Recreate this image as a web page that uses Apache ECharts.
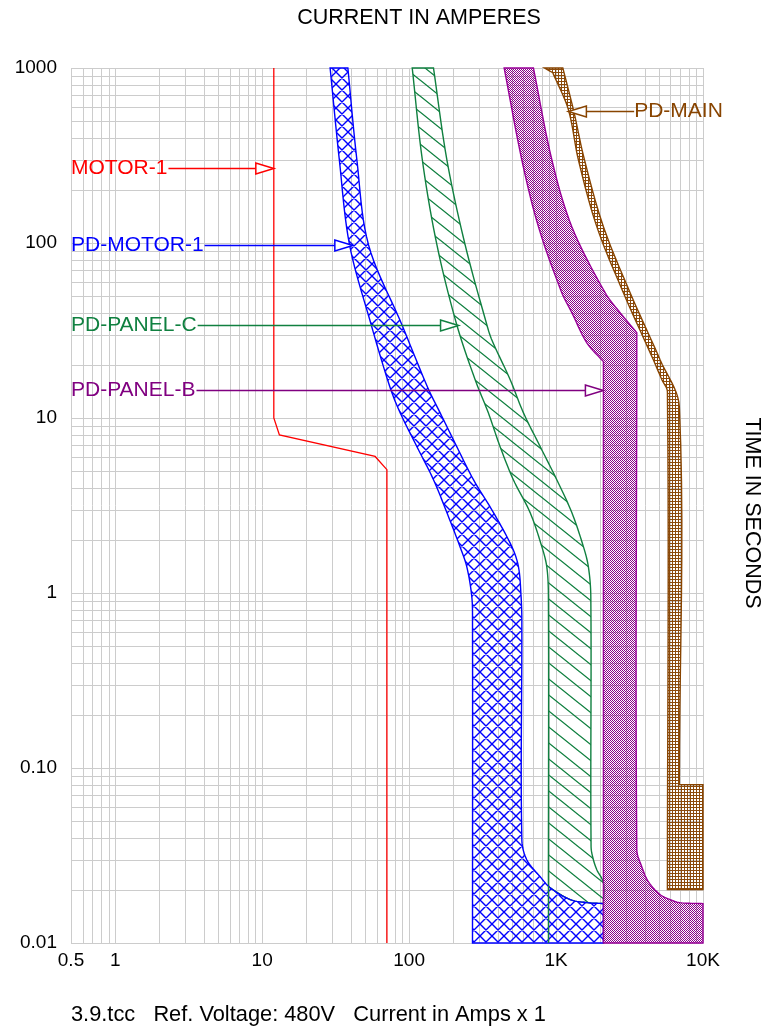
<!DOCTYPE html>
<html>
<head>
<meta charset="utf-8">
<script src="https://cdn.jsdelivr.net/npm/echarts@6/dist/echarts.min.js"></script>
<style>
  html, body { margin: 0; padding: 0; background: #fff; }
  #chart { width: 764px; height: 1030px; }
</style>
</head>
<body>
<div id="chart"></div>
<script>
// ---- axis labels ----
const ampTicks = [0.5, 1, 10, 100, 1000, 10000];
const ampTickText = ['0.5', '1', '10', '100', '1K', '10K'];
const secTicks = [0.01, 0.1, 1, 10, 100, 1000];
const secTickText = ['0.01', '0.10', '1', '10', '100', '1000'];

// ---- curves: [amps, seconds] ----
const motor1 = [[12, 1000], [12, 10], [13.1, 8], [58.7, 6.03], [70.6, 5.07], [70.6, 0.01]];

const pdMotor1 = [
  [29, 1000], [33.5, 299], [39.3, 97.8], [55.2, 34.1], [74.3, 14.9], [87, 10.7],
  [113, 6.86], [146.5, 4.44], [180.7, 2.88], [222, 1.84], [247, 1.41], [267, 0.953],
  [270, 0.7], [270, 0.01],
  [2100, 0.01], [2100, 0.0168], [1626, 0.017], [1247, 0.0177], [911, 0.0207],
  [780, 0.0239], [632, 0.0299], [585, 0.0389], [585, 0.7], [578, 0.953], [555, 1.41],
  [500, 1.84], [375, 2.88], [274, 4.44], [211, 6.86], [162.6, 10.7], [134, 14.9],
  [89.3, 34.1], [52.9, 97.8], [44.1, 299], [38.3, 1000]
];

const pdPanelC = [
  [105, 1000], [123, 299], [154.5, 97.8], [211, 34.1], [281, 16.6], [346, 10.7],
  [416, 6.86], [512, 4.44], [666, 2.88], [800, 1.84], [865, 1.41], [887, 0.953],
  [887, 0.0212], [911, 0.0207], [1247, 0.0177], [1626, 0.017], [2100, 0.0168],
  [2100, 0.0221], [1894, 0.0262], [1795, 0.0299], [1731, 0.0355], [1724, 0.953],
  [1660, 1.41], [1535, 1.84], [1280, 2.88], [1011, 4.44], [780, 6.86], [600, 10.7],
  [486.6, 16.6], [365, 28], [338, 34.1], [240.4, 97.8], [180.7, 299], [146.5, 1000]
];
const pdPanelCTail = [[887, 0.0212], [887, 0.01]];

const pdPanelB = [
  [443.5, 1000], [584.6, 299], [758.6, 124], [1094, 52], [1280, 40], [1619, 26.9],
  [2100, 21], [2100, 0.01],
  [10000, 0.01], [10000, 0.0168], [6980, 0.017], [5970, 0.0177], [5105, 0.0189],
  [4248, 0.0224], [3829, 0.0273], [3544, 0.0341], [3544, 30.7], [2727, 40],
  [2157, 52], [1280, 124], [936, 299], [701.5, 1000]
];

const pdMain = [
  [833, 1000], [950, 940], [1213, 578], [1419, 299], [1894, 124], [2872, 52],
  [4593, 21.5], [5240, 16.6], [5725, 14.1], [5725, 0.0202],
  [10000, 0.0202], [10000, 0.0803], [6900, 0.0803], [6900, 11.6], [5105, 21.5],
  [3191, 52], [2100, 124], [1560, 299], [1312, 578], [1112, 1000]
];

// ---- annotations ----
const labelNames = ['MOTOR-1', 'PD-MOTOR-1', 'PD-PANEL-C', 'PD-PANEL-B', 'PD-MAIN'];
const labelSec = [270, 97, 34, 14.5, 565];
const labelTipAmps = [12, 41.4, 217, 2100, 1213];
const labelTextAmps = [0.5, 0.5, 0.5, 0.5, 3400];
const labelColors = ['#ff0000', '#0000ff', '#108040', '#800080', '#884400'];

const FONT = '"Liberation Sans", Arial, Helvetica, sans-serif';

// grid values 1..9 per decade
function decadeValues(lo, hi) {
  const out = [];
  for (let e = -3; e <= 4; e++) {
    for (let m = 1; m <= 9; m++) {
      const v = m * Math.pow(10, e);
      if (v >= lo * 0.999 && v <= hi * 1.001) out.push(v);
    }
  }
  return out;
}
const gridAmps = decadeValues(0.5, 10000);
const gridSec = decadeValues(0.01, 1000);

// fill patterns
function makePattern(w, h, draw) {
  const c = document.createElement('canvas');
  c.width = w; c.height = h;
  draw(c.getContext('2d'), w, h);
  return { image: c, repeat: 'repeat' };
}
const blueHatch = makePattern(12, 12, (ctx, w, h) => {
  ctx.strokeStyle = '#0000ff'; ctx.lineWidth = 1.4;
  ctx.beginPath();
  for (let k = -1; k <= 1; k++) {
    ctx.moveTo(-2, -2 + k * h); ctx.lineTo(w + 2, h + 2 + k * h);
    ctx.moveTo(-2, h + 2 + k * h); ctx.lineTo(w + 2, -2 + k * h);
  }
  ctx.stroke();
});
const greenHatch = makePattern(20, 16, (ctx, w, h) => {
  ctx.strokeStyle = '#108040'; ctx.lineWidth = 1.3;
  ctx.beginPath();
  for (let k = -1; k <= 1; k++) {
    ctx.moveTo(-5, -4 + k * h); ctx.lineTo(w + 5, h + 4 + k * h);
  }
  ctx.stroke();
});
const purpleDots = makePattern(2, 2, (ctx) => {
  ctx.fillStyle = '#880088';
  ctx.fillRect(0, 0, 1, 1); ctx.fillRect(1, 1, 1, 1);
});
const brownGrid = makePattern(3, 3, (ctx) => {
  ctx.fillStyle = '#8b4a0b';
  ctx.fillRect(0, 0, 3, 1); ctx.fillRect(0, 0, 1, 3);
});

const measureCtx = document.createElement('canvas').getContext('2d');
function textWidth(t, font) { measureCtx.font = font; return measureCtx.measureText(t).width; }

// smooth a closed outline (pixel points), keeping sharp corners
function smoothOutline(px) {
  const n = px.length;
  const get = i => px[(i + n) % n];
  const dist = (a, b) => Math.hypot(b[0] - a[0], b[1] - a[1]);
  const corner = i => {
    const p0 = get(i - 1), p1 = get(i), p2 = get(i + 1);
    const a = Math.atan2(p1[1] - p0[1], p1[0] - p0[0]);
    const b = Math.atan2(p2[1] - p1[1], p2[0] - p1[0]);
    let d = Math.abs(b - a);
    if (d > Math.PI) d = 2 * Math.PI - d;
    return d > 35 * Math.PI / 180;
  };
  const out = [];
  for (let i = 0; i < n; i++) {
    const p0 = get(i - 1), p1 = get(i), p2 = get(i + 1), p3 = get(i + 2);
    const d01 = dist(p0, p1), d12 = dist(p1, p2), d23 = dist(p2, p3);
    let m1, m2;
    if (corner(i) || d01 + d12 === 0) m1 = [p2[0] - p1[0], p2[1] - p1[1]];
    else { const k = d12 / (d01 + d12); m1 = [(p2[0] - p0[0]) * k, (p2[1] - p0[1]) * k]; }
    if (corner(i + 1) || d12 + d23 === 0) m2 = [p2[0] - p1[0], p2[1] - p1[1]];
    else { const k = d12 / (d12 + d23); m2 = [(p3[0] - p1[0]) * k, (p3[1] - p1[1]) * k]; }
    const c1 = [p1[0] + m1[0] / 3, p1[1] + m1[1] / 3];
    const c2 = [p2[0] - m2[0] / 3, p2[1] - m2[1] / 3];
    const steps = 10;
    for (let s = 0; s < steps; s++) {
      const t = s / steps, u = 1 - t;
      out.push([
        u * u * u * p1[0] + 3 * u * u * t * c1[0] + 3 * u * t * t * c2[0] + t * t * t * p2[0],
        u * u * u * p1[1] + 3 * u * u * t * c1[1] + 3 * u * t * t * c2[1] + t * t * t * p2[1]
      ]);
    }
  }
  return out;
}

function bandSeries(name, points, fill, stroke, z) {
  return {
    name: name,
    type: 'custom',
    coordinateSystem: 'cartesian2d',
    silent: true,
    z: z,
    data: [[1, 1]],
    renderItem: function (params, api) {
      return {
        type: 'polygon',
        shape: { points: smoothOutline(points.map(p => api.coord(p))) },
        style: { fill: fill, stroke: stroke, lineWidth: 1.4 }
      };
    }
  };
}

function lineSeries(name, points, color, width, z) {
  return {
    name: name,
    type: 'custom',
    coordinateSystem: 'cartesian2d',
    silent: true,
    z: z,
    data: [[1, 1]],
    renderItem: function (params, api) {
      return {
        type: 'polyline',
        shape: { points: points.map(p => api.coord(p)) },
        style: { fill: null, stroke: color, lineWidth: width }
      };
    }
  };
}

const chart = echarts.init(document.getElementById('chart'));

const option = {
  backgroundColor: '#fff',
  animation: false,
  grid: { left: 71, right: 61, top: 68, bottom: 87 },
  xAxis: {
    type: 'log', logBase: 10, min: 0.5, max: 10000,
    axisLine: { show: false }, axisTick: { show: false },
    axisLabel: { show: false }, splitLine: { show: false }
  },
  yAxis: {
    type: 'log', logBase: 10, min: 0.01, max: 1000,
    axisLine: { show: false }, axisTick: { show: false },
    axisLabel: { show: false }, splitLine: { show: false }
  },
  graphic: [
    { type: 'text', x: 419, y: 18, style: { text: 'CURRENT IN AMPERES', font: '21.5px ' + FONT, fill: '#000', align: 'center', verticalAlign: 'middle' } },
    { type: 'text', x: 752, y: 513, rotation: -Math.PI / 2, style: { text: 'TIME IN SECONDS', font: '21.5px ' + FONT, fill: '#000', align: 'center', verticalAlign: 'middle' } },
    { type: 'text', x: 71, y: 1015, style: { text: '3.9.tcc   Ref. Voltage: 480V   Current in Amps x 1', font: '21.8px ' + FONT, fill: '#000', align: 'left', verticalAlign: 'middle' } }
  ],
  series: [
    {
      name: 'grid',
      type: 'custom',
      coordinateSystem: 'cartesian2d',
      silent: true,
      z: 1,
      data: [[1, 1]],
      renderItem: function (params, api) {
        const children = [];
        const top = api.coord([1, 1000])[1], bottom = api.coord([1, 0.01])[1];
        const left = api.coord([0.5, 1])[0], right = api.coord([10000, 1])[0];
        gridAmps.forEach(v => {
          const x = Math.round(api.coord([v, 1])[0]) + 0.5;
          children.push({ type: 'line', shape: { x1: x, y1: top, x2: x, y2: bottom }, style: { stroke: '#cccccc', lineWidth: 1 } });
        });
        gridSec.forEach(v => {
          const y = Math.round(api.coord([1, v])[1]) + 0.5;
          children.push({ type: 'line', shape: { x1: left, y1: y, x2: right, y2: y }, style: { stroke: '#cccccc', lineWidth: 1 } });
        });
        ampTicks.forEach((v, i) => {
          children.push({ type: 'text', style: { text: ampTickText[i], x: api.coord([v, 1])[0], y: bottom + 18, align: 'center', verticalAlign: 'middle', font: '19px ' + FONT, fill: '#000' } });
        });
        secTicks.forEach((v, i) => {
          children.push({ type: 'text', style: { text: secTickText[i], x: left - 14, y: api.coord([1, v])[1], align: 'right', verticalAlign: 'middle', font: '19px ' + FONT, fill: '#000' } });
        });
        return { type: 'group', children: children };
      }
    },
    lineSeries('MOTOR-1', motor1, '#ff0000', 1.3, 2),
    bandSeries('PD-PANEL-C', pdPanelC, greenHatch, '#108040', 3),
    bandSeries('PD-MOTOR-1', pdMotor1, blueHatch, '#0000ff', 4),
    lineSeries('PD-PANEL-C tail', pdPanelCTail, '#108040', 1.3, 5),
    bandSeries('PD-PANEL-B', pdPanelB, purpleDots, '#990099', 6),
    bandSeries('PD-MAIN', pdMain, brownGrid, '#884400', 7),
    {
      name: 'labels',
      type: 'custom',
      coordinateSystem: 'cartesian2d',
      silent: true,
      z: 10,
      data: labelNames.map((n, i) => [labelTipAmps[i], labelSec[i]]),
      renderItem: function (params, api) {
        const i = params.dataIndex;
        const color = labelColors[i];
        const font = '21px ' + FONT;
        const tip = api.coord([labelTipAmps[i], labelSec[i]]);
        const y = Math.round(tip[1]) + 0.5;
        const tx = api.coord([labelTextAmps[i], labelSec[i]])[0];
        const w = textWidth(labelNames[i], font);
        const L = 18, H = 5.5;
        const rightSide = tx > tip[0];
        const children = [{
          type: 'text',
          style: { text: labelNames[i], x: tx, y: y, align: 'left', verticalAlign: 'middle', font: font, fill: color }
        }];
        if (rightSide) {
          children.push({ type: 'line', shape: { x1: tip[0] + L, y1: y, x2: tx, y2: y }, style: { stroke: color, lineWidth: 1.5 } });
          children.push({ type: 'polygon', shape: { points: [[tip[0], y], [tip[0] + L, y - H], [tip[0] + L, y + H]] }, style: { fill: '#fff', stroke: color, lineWidth: 1.5 } });
        } else {
          children.push({ type: 'line', shape: { x1: tx + w + 1, y1: y, x2: tip[0] - L, y2: y }, style: { stroke: color, lineWidth: 1.5 } });
          children.push({ type: 'polygon', shape: { points: [[tip[0], y], [tip[0] - L, y - H], [tip[0] - L, y + H]] }, style: { fill: '#fff', stroke: color, lineWidth: 1.5 } });
        }
        return { type: 'group', children: children };
      }
    }
  ]
};

chart.setOption(option);
</script>
</body>
</html>
